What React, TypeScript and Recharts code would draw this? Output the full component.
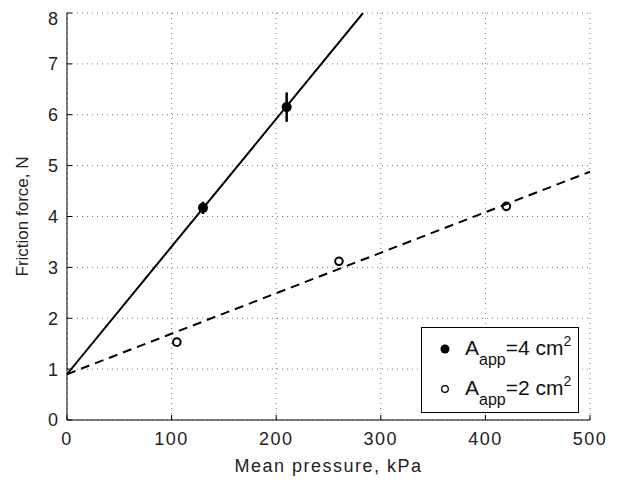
import React from 'react';
import {
  ComposedChart,
  Scatter,
  XAxis,
  YAxis,
  CartesianGrid,
  ErrorBar,
  Legend,
} from 'recharts';

// Data
const pressure4 = [130, 210];
const force4 = [4.17, 6.15];
const err4 = [0.12, 0.29];

const pressure2 = [105, 260, 420];
const force2 = [1.53, 3.12, 4.2];

const fit4X = [0, 283];
const fit4Y = [0.9, 8];
const fit2X = [0, 500];
const fit2Y = [0.9, 4.88];

const xTicks = [0, 100, 200, 300, 400, 500];
const yTicks = [0, 1, 2, 3, 4, 5, 6, 7, 8];

const xLabel = 'Mean pressure, kPa';
const yLabel = 'Friction force, N';
const legendLabels = [
  { main: 'A', sub: 'app', rest: '=4 cm', sup: '2', filled: true },
  { main: 'A', sub: 'app', rest: '=2 cm', sup: '2', filled: false },
];

const data4 = pressure4.map((x, i) => ({ x, y: force4[i], err: err4[i] }));
const data2 = pressure2.map((x, i) => ({ x, y: force2[i] }));
const fit4 = fit4X.map((x, i) => ({ x, y: fit4Y[i] }));
const fit2 = fit2X.map((x, i) => ({ x, y: fit2Y[i] }));

const FONT = '"Liberation Sans", Arial, Helvetica, sans-serif';

const FilledDot = (p: any) => <circle cx={p.cx} cy={p.cy} r={5} fill="#000" />;
const OpenDot = (p: any) => (
  <circle cx={p.cx} cy={p.cy} r={3.8} fill="none" stroke="#000" strokeWidth={2} />
);
const NoDot = () => <g />;

const LegendBox = () => (
  <svg width={158} height={86} style={{ display: 'block' }}>
    <rect x={0.5} y={0.5} width={157} height={85} fill="#fff" stroke="#000" strokeWidth={1} />
    {legendLabels.map((l, i) => {
      const base = 28 + i * 40;
      return (
        <g key={i}>
          {l.filled ? (
            <circle cx={24} cy={base - 6} r={4.5} fill="#000" />
          ) : (
            <circle cx={24} cy={base - 6} r={3.3} fill="none" stroke="#000" strokeWidth={1.3} />
          )}
          <text x={44} y={base} fontFamily={FONT} fontSize={21} fill="#111">
            {l.main}
            <tspan dy={10} fontSize={16}>{l.sub}</tspan>
            <tspan dy={-10} fontSize={21}>{l.rest}</tspan>
            <tspan dy={-9} fontSize={14}>{l.sup}</tspan>
          </text>
        </g>
      );
    })}
  </svg>
);

export default function App() {
  return (
    <div style={{ width: 600, height: 470, fontFamily: FONT }}>
      <ComposedChart
        width={600}
        height={470}
        margin={{ top: 5, right: 18, bottom: 0, left: 0 }}
      >
        <CartesianGrid stroke="#777" strokeDasharray="1 4" />
        <XAxis
          type="number"
          dataKey="x"
          domain={[0, 500]}
          ticks={xTicks}
          allowDataOverflow
          height={58}
          tickSize={-5}
          tickMargin={17}
          axisLine={{ stroke: '#000' }}
          tickLine={{ stroke: '#000' }}
          tick={{ fill: '#222', fontSize: 18, fontFamily: FONT, letterSpacing: 1.5 }}
          label={{
            value: xLabel,
            position: 'insideBottom',
            offset: 6,
            fill: '#222',
            fontSize: 18,
            fontFamily: FONT,
            style: { letterSpacing: '1.5px' },
          }}
        />
        <YAxis
          type="number"
          dataKey="y"
          domain={[0, 8]}
          ticks={yTicks}
          allowDataOverflow
          width={59}
          tickSize={-5}
          tickMargin={14}
          axisLine={{ stroke: '#000' }}
          tickLine={{ stroke: '#000' }}
          tick={{ fill: '#222', fontSize: 18, fontFamily: FONT }}
          label={{
            value: yLabel,
            angle: -90,
            position: 'insideLeft',
            offset: 14,
            fill: '#222',
            fontSize: 17,
            fontFamily: FONT,
            style: { textAnchor: 'middle' },
          }}
        />
        <Scatter
          data={fit4}
          shape={NoDot}
          line={{ stroke: '#000', strokeWidth: 2, fill: 'none' }}
          isAnimationActive={false}
          legendType="none"
        />
        <Scatter
          data={fit2}
          shape={NoDot}
          line={{ stroke: '#000', strokeWidth: 2, strokeDasharray: '9 6', fill: 'none' }}
          isAnimationActive={false}
          legendType="none"
        />
        <Scatter data={data4} shape={FilledDot} isAnimationActive={false}>
          <ErrorBar dataKey="err" direction="y" width={0} stroke="#000" strokeWidth={2.5} />
        </Scatter>
        <Scatter data={data2} shape={OpenDot} isAnimationActive={false} />
        <Legend
          layout="vertical"
          align="center"
          verticalAlign="middle"
          content={LegendBox}
          wrapperStyle={{ left: 413, top: 319, width: 158, height: 86 }}
        />
      </ComposedChart>
    </div>
  );
}
